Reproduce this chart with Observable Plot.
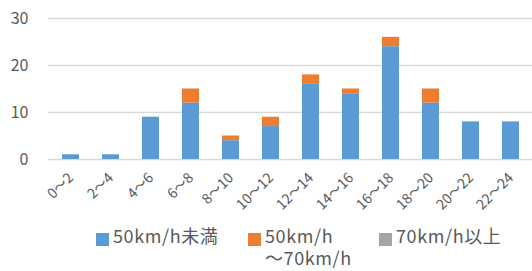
<!DOCTYPE html>
<html><head><meta charset="utf-8">
<script src="https://cdn.jsdelivr.net/npm/d3@7"></script>
<script src="https://cdn.jsdelivr.net/npm/@observablehq/plot@0.6"></script>
<style>
body{margin:0;background:#fff;font-family:"Noto Sans CJK JP","Noto Sans",sans-serif;}
#wrap{position:relative;width:532px;height:271px;overflow:hidden;}
#legend{position:absolute;top:224px;left:0;width:532px;font-size:18px;color:#595959;z-index:2;letter-spacing:0.6px;}
.item{position:absolute;top:0;display:flex;align-items:flex-start;line-height:22px;}
.sw{width:13px;height:13px;margin-top:9px;margin-right:4px;flex:none;}
</style></head>
<body><div id="wrap"><div id="chart"></div><div id="legend"></div></div>
<script>
const categories = ["0～2","2～4","4～6","6～8","8～10","10～12","12～14","14～16","16～18","18～20","20～22","22～24"];
const seriesNames = ["50km/h未満","50km/h～70km/h","70km/h以上"];
const under50 = [1,1,9,12,4,7,16,14,24,12,8,8];
const from50to70 = [0,0,0,3,1,2,2,1,2,3,0,0];
const over70 = [0,0,0,0,0,0,0,0,0,0,0,0];
const colors = ["#5b9bd5","#ed7d31","#a5a5a5"];
const yTicks = [0,10,20,30];
const legendLabels = ["50km/h未満", "50km/h<br>～70km/h", "70km/h以上"];

const data = [];
[under50, from50to70, over70].forEach((arr, s) => {
  arr.forEach((v, i) => data.push({cat: categories[i], series: seriesNames[s], value: v}));
});

const chart = Plot.plot({
  width: 532, height: 224,
  marginLeft: 48, marginRight: 0, marginTop: 18, marginBottom: 65,
  style: {fontFamily: "'Noto Sans CJK JP','Noto Sans',sans-serif", color: "#595959", background: "#fff"},
  x: {domain: categories, paddingInner: 0.58, paddingOuter: 0.29, label: null},
  y: {domain: [0,30], ticks: yTicks, label: null},
  color: {domain: seriesNames, range: colors},
  marks: [
    Plot.gridY(yTicks, {stroke: "#d9d9d9", strokeOpacity: 1, strokeWidth: 1.5}),
    Plot.axisY({ticks: yTicks, tickSize: 0, tickPadding: 20, fontSize: 16, label: null}),
    Plot.axisX({tickRotate: -45, tickSize: 0, tickPadding: 16, fontSize: 14, label: null}),
    Plot.barY(data.filter(d => d.value > 0), Plot.stackY({x: "cat", y: "value", fill: "series", order: seriesNames}))
  ]
});
document.getElementById("chart").appendChild(chart);

const legendLeft = [96, 248, 379];
const lg = document.getElementById("legend");
seriesNames.forEach((n, i) => {
  const it = document.createElement("div");
  it.className = "item";
  it.style.left = legendLeft[i] + "px";
  it.innerHTML = `<div class="sw" style="background:${colors[i]}"></div><div>${legendLabels[i]}</div>`;
  lg.appendChild(it);
});
</script></body></html>
